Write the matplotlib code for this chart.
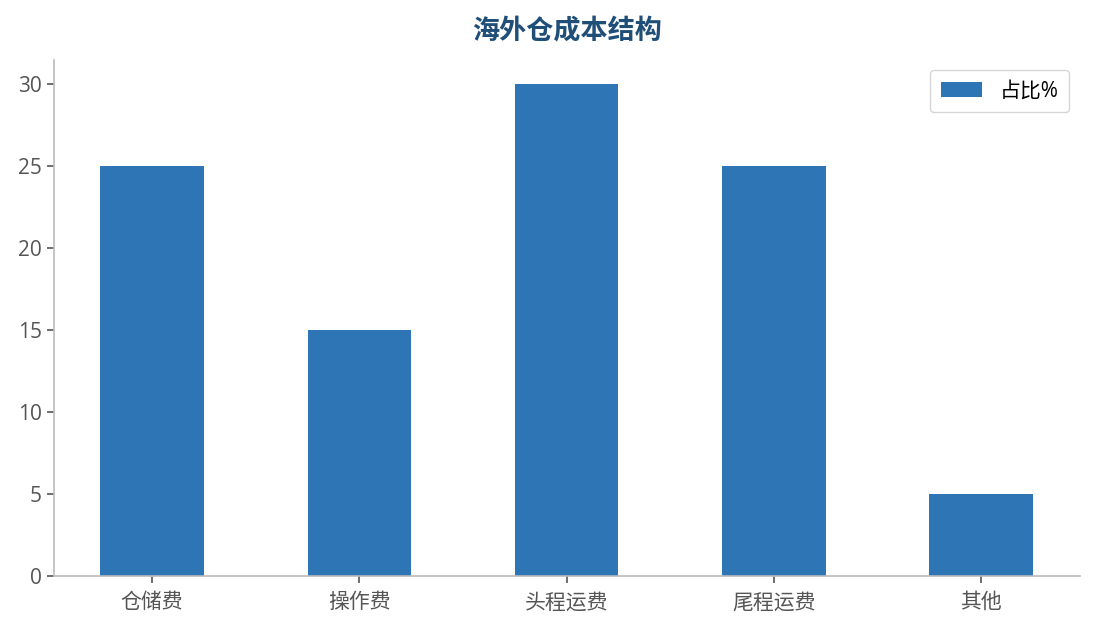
import numpy as np
import matplotlib
matplotlib.use('Agg')
import matplotlib.pyplot as plt

plt.rcParams['font.family'] = ['Open Sans', 'Noto Sans CJK SC', 'DejaVu Sans']

categories = ['仓储费', '操作费', '头程运费', '尾程运费', '其他']
share = [25, 15, 30, 25, 5]

fig, ax = plt.subplots(figsize=(10.95, 6.29), dpi=100)
ax.bar(categories, share, width=0.5, color='#2e75b6', label='占比%')

ax.set_title('海外仓成本结构', fontsize=19.5, fontweight='bold', color='#1f4e79', pad=15)
ax.spines['top'].set_visible(False)
ax.spines['right'].set_visible(False)
for s in ['left', 'bottom']:
    ax.spines[s].set_color('#bbbbbb')
    ax.spines[s].set_linewidth(1.2)
ax.tick_params(colors='#555555', labelsize=15, length=5, width=1.2)
ax.tick_params(axis='x', pad=7)
for lbl in ax.get_xticklabels() + ax.get_yticklabels():
    lbl.set_color('#555555')
ax.legend(loc='upper right', fontsize=15, frameon=True, edgecolor='#cccccc',
          fancybox=True, borderpad=0.5, handlelength=2.0, handletextpad=0.85)

fig.subplots_adjust(left=0.049, right=0.986, top=0.905, bottom=0.085)
fig.savefig('out.png', dpi=100)
